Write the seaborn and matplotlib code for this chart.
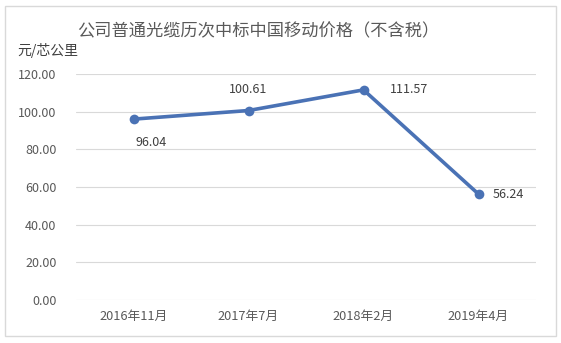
import matplotlib
matplotlib.use("Agg")
import matplotlib.pyplot as plt
import seaborn as sns
import pandas as pd
from matplotlib.patches import Rectangle

categories = ["2016年11月", "2017年7月", "2018年2月", "2019年4月"]
prices = [96.04, 100.61, 111.57, 56.24]
yticks = [0, 20, 40, 60, 80, 100, 120]

sns.set_theme(style="white")
plt.rcParams['font.family'] = ['Noto Sans CJK SC', 'DejaVu Sans']

df = pd.DataFrame({"cat": categories, "price": prices})

fig = plt.figure(figsize=(5.61, 3.43), dpi=100)
ax = fig.add_axes([76/561, 43/343, 460/561, 226/343])

sns.lineplot(data=df, x="cat", y="price", ax=ax, color="#4a72b5", linewidth=2.6,
             marker="o", markersize=7, markeredgewidth=0, sort=False)

ax.set_xlim(-0.5, 3.5)
ax.set_ylim(0, 120)
ax.set_yticks(yticks)
ax.set_yticklabels([f"{v:.2f}" for v in yticks], fontsize=9, color="#595959")
ax.set_xticks(range(len(categories)))
ax.set_xticklabels(categories, fontsize=9.2, color="#595959")
ax.tick_params(axis='y', length=0, pad=14)
ax.tick_params(axis='x', length=0, pad=7)
ax.grid(axis='y', color="#d9d9d9", linewidth=0.8)
for s in ax.spines.values():
    s.set_visible(False)
ax.set_xlabel("")
ax.set_ylabel("")

offsets = [(13, -17, 'center', 'center'), (0, 15, 'center', 'center'),
           (19, 0, 'left', 'center'), (10, 0, 'left', 'center')]
for i, (v, (dx, dy, ha, va)) in enumerate(zip(prices, offsets)):
    ax.annotate(f"{v:.2f}", (i, v), xytext=(dx, dy), textcoords="offset points",
                ha=ha, va=va, fontsize=9, color="#404040")

fig.text(258/561, 1 - 31/343, "公司普通光缆历次中标中国移动价格（不含税）",
         ha="center", va="center", fontsize=12.4, color="#595959")
fig.text(17/561, 1 - 50/343, "元/芯公里", ha="left", va="center", fontsize=10, color="#404040")

fig.patches.append(Rectangle((5/561, 7/343), 551/561, 330/343, transform=fig.transFigure,
                             fill=False, edgecolor="#d9d9d9", linewidth=1))

fig.savefig("out.png", dpi=100)
